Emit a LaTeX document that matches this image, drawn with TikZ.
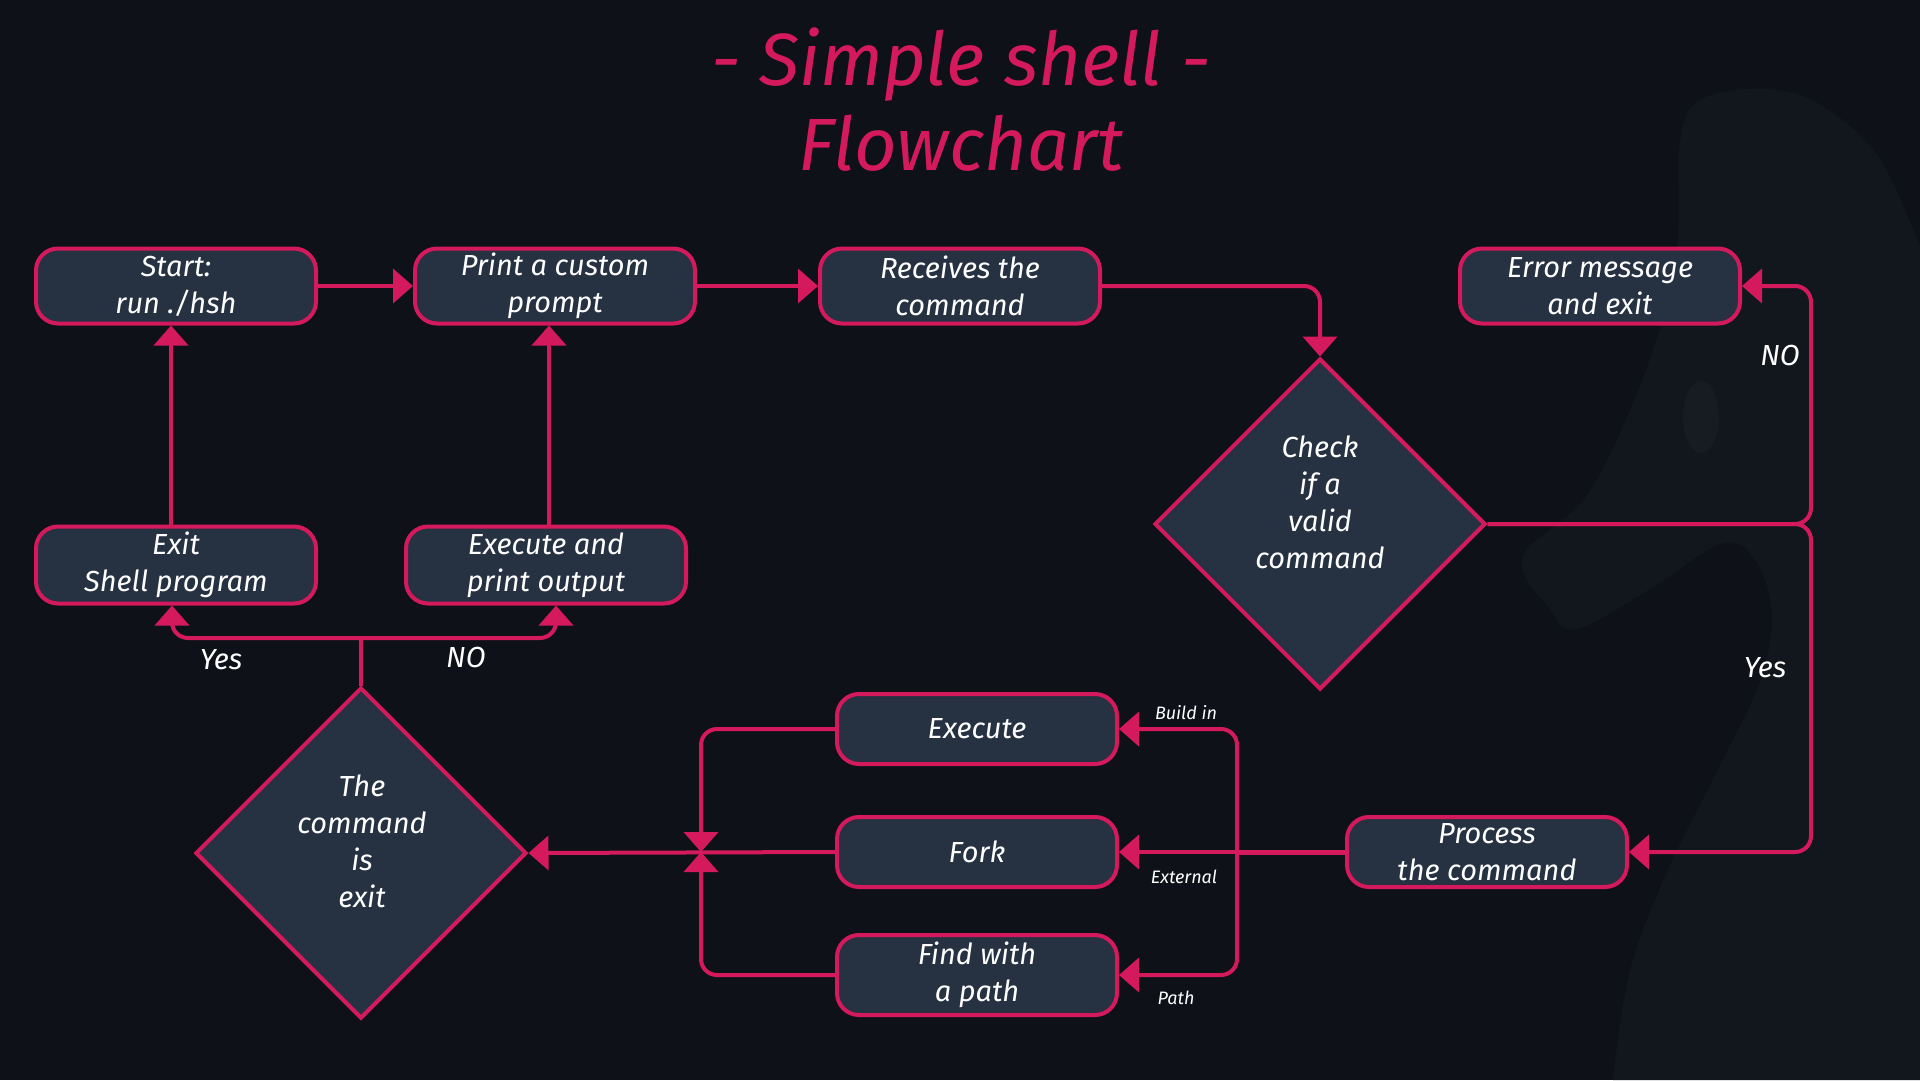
\documentclass[tikz,border=0pt]{standalone}
\usepackage{fontspec}
\setmainfont{Fira Sans}
\usetikzlibrary{shapes.geometric,arrows.meta}
\definecolor{bg}{HTML}{0E1118}
\definecolor{ghost}{HTML}{12171E}
\definecolor{eyec}{HTML}{171B22}
\definecolor{boxfill}{HTML}{263142}
\definecolor{pink}{HTML}{D41A5C}
\begin{document}
\begin{tikzpicture}[x=1pt,y=-1pt,
  box/.style={draw=pink, fill=boxfill, line width=4pt, rounded corners=22pt,
    minimum width=280pt, minimum height=75pt, inner sep=0pt, align=center,
    text=white, font=\fontsize{29}{37}\selectfont\itshape},
  dec/.style={diamond, draw=pink, fill=boxfill, line width=4pt,
    minimum width=331pt, minimum height=331pt, inner sep=0pt},
  dtext/.style={align=center, inner sep=0pt, text=white,
    font=\fontsize{29}{37}\selectfont\itshape},
  conn/.style={draw=pink, line width=4pt, rounded corners=16pt},
  arr/.style={conn, -{Triangle[length=20pt,width=34pt]}},
  lab/.style={text=white, font=\fontsize{29}{35}\selectfont\itshape},
  small/.style={text=white, font=\fontsize{18}{22}\selectfont\itshape},
  ttl/.style={text=pink, font=\fontsize{74}{85}\selectfont\itshape, anchor=base},
]
\useasboundingbox (0,0) rectangle (1920,1080);
\fill[bg] (0,0) rectangle (1920,1080);
% background silhouette
\fill[ghost] plot[smooth, tension=0.6] coordinates {(1920,247) (1877,155) (1817,103) (1763,89) (1700,100) (1680,142) (1677,247) (1650,359) (1590,491) (1523,557) (1550,609) (1577,629) (1650,589) (1723,543) (1757,563) (1772,616) (1760,682) (1723,760) (1667,872) (1630,971) (1613,1080)} -- (1920,1080) -- cycle;
\fill[eyec] (1701,417) ellipse [x radius=18, y radius=36];

% title
\node[ttl] (t1) at (961,85) {- Simple shell -};
\node[ttl] (t2) at (961,170) {Flowchart};

% nodes
\node[box] (start) at (176,286) {Start:\\run ./hsh};
\node[box] (print) at (555,286) {Print a custom\\prompt};
\node[box] (recv) at (960,286) {Receives the\\command};
\node[box] (err) at (1600,286) {Error message\\and exit};
\node[box, minimum height=77pt] (exit) at (176,565) {Exit\\Shell program};
\node[box, minimum height=77pt] (ep) at (546,565) {Execute and\\print output};
\node[dec] (d1) at (1320,524) {};
\node[dtext] (d1t) at (1320,502) {Check\\if a\\valid\\command};
\node[dec] (d2) at (361,853) {};
\node[dtext] (d2t) at (362,841) {The\\command\\is\\exit};
\node[box, minimum height=70pt] (exec) at (977,729) {Execute};
\node[box, minimum height=70pt] (fork) at (977,852) {Fork};
\node[box, minimum height=80pt] (find) at (977,975) {Find with\\a path};
\node[box, minimum height=70pt] (proc) at (1487,852) {Process\\the command};

% junction coordinates
\coordinate (rj) at (1811,524);
\coordinate (jn) at (1237,852);
\coordinate (jl) at (701,852);
\coordinate (bj) at (361,638);

% connectors
\draw[arr] (start) -- (print);
\draw[arr] (print) -- (recv);
\draw[arr] (recv.east) -| (d1.north);
\draw[arr] (d1.east) -- (rj) |- (err.east);
\draw[arr] (d1.east) -- (rj) |- (proc.east);
\draw[conn, line width=5pt] (proc.west) -- (jn);
\draw[arr] (jn) |- (exec.east);
\draw[arr] (jn) -- (fork.east);
\draw[arr] (jn) |- (find.east);
\draw[arr] (exec.west) -| (jl);
\draw[arr] (find.west) -| (jl);
\draw[arr] (fork.west) -- (d2.east);
\draw[conn] (d2.north) -- (bj);
\draw[arr] (bj) -| ([xshift=-4pt]exit.south);
\draw[arr] (bj) -| ([xshift=10pt]ep.south);
\draw[arr] ([xshift=-5pt]exit.north) -- ([xshift=-5pt]start.south);
\draw[arr] ([xshift=3pt]ep.north) -- ([xshift=3pt]ep.north |- print.south);

% labels
\node[lab] (lno1) at (1780,355) {NO};
\node[lab] (lyes1) at (1765,668) {Yes};
\node[lab] (lyes2) at (221,660) {Yes};
\node[lab] (lno2) at (466,657) {NO};
\node[small] (lbi) at (1186,713) {Build in};
\node[small] (lext) at (1184,877) {External};
\node[small] (lpath) at (1176,998) {Path};
\end{tikzpicture}
\end{document}
